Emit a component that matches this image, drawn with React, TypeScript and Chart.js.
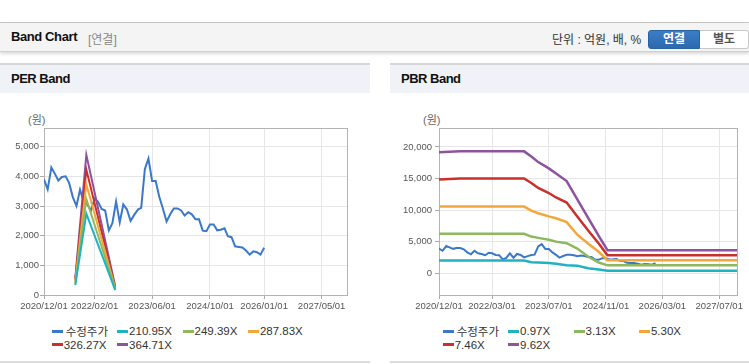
import React, { useEffect, useRef } from "react";
import { Chart, registerables } from "chart.js";
Chart.register(...registerables);

// ---------- data ----------
const axisStart = "2020/12/01";
const axisEnd = "2027/12/01";

const priceLabel = "수정주가";
// monthly adjusted price, starting 2020/12
const priceValues = [
  3900, 3560, 4300, 4100, 3860, 3980, 4000, 3780, 3300, 3000,
  3550, 3150, 3050, 2850, 3250, 3150, 2900, 2850, 2180, 2420,
  3150, 2450, 3050, 2880, 2500, 2700, 2880, 2940, 4250, 4600,
  3840, 3840, 3300, 2900, 2480, 2720, 2920, 2920, 2850, 2680,
  2790, 2720, 2550, 2550, 2170, 2150, 2380, 2380, 2180, 2200,
  2250, 1980, 1950, 1640, 1620, 1600, 1500, 1360, 1470, 1440,
  1360, 1590,
];

const perBandLabels = ["210.95X", "249.39X", "287.83X", "326.27X", "364.71X"];
const perBandDates = ["2021/08/22", "2021/11/23", "2022/07/25"];
const perBand1 = [330, 2740, 165];
const perBand2 = [390, 3235, 195];
const perBand3 = [450, 3735, 225];
const perBand4 = [510, 4230, 255];
const perBand5 = [570, 4730, 285];
const perXTicks = ["2020/12/01", "2022/02/01", "2023/06/01", "2024/10/01", "2026/01/01", "2027/05/01"];
const perYTicks = [0, 1000, 2000, 3000, 4000, 5000];
const perYMin = 0;
const perYMax = 5630;

const pbrBandLabels = ["0.97X", "3.13X", "5.30X", "7.46X", "9.62X"];
const pbrBandDates = [
  "2020/12/01", "2021/06/01", "2022/12/01", "2023/02/01", "2023/04/01", "2023/07/01",
  "2023/09/01", "2023/12/01", "2024/03/01", "2024/06/01", "2024/09/01", "2024/11/15", "2028/01/01",
];
const pbrBand1 = [2000, 2000, 2000, 1750, 1700, 1600, 1500, 1250, 1200, 780, 600, 380, 380];
const pbrBand2 = [6250, 6250, 6250, 5800, 5600, 5300, 5000, 4750, 3900, 2650, 1700, 1250, 1250];
const pbrBand3 = [10550, 10550, 10550, 9900, 9500, 9000, 8700, 8100, 6100, 4700, 3400, 2050, 2050];
const pbrBand4 = [14850, 15000, 15000, 14300, 13500, 12700, 12000, 11200, 9000, 6800, 4700, 2850, 2850];
const pbrBand5 = [19150, 19300, 19300, 18500, 17600, 16600, 15800, 14600, 11700, 8800, 5900, 3650, 3650];
const pbrXTicks = ["2020/12/01", "2022/03/01", "2023/07/01", "2024/11/01", "2026/03/01", "2027/07/01"];
const pbrYTicks = [0, 5000, 10000, 15000, 20000];
const pbrYMin = -3450;
const pbrYMax = 23000;

const priceColor = "#3a78c8";
const bandColors = ["#1fb3c1", "#8db85c", "#f3a73a", "#c9302c", "#8e529e"];

// ---------- helpers ----------
const DAY = 86400000;
const parseDate = (s: string) => {
  const [y, m, d] = s.split("/").map(Number);
  return Date.UTC(y, m - 1, d);
};
const START = parseDate(axisStart);
const toDay = (s: string) => (parseDate(s) - START) / DAY;
const monthDay = (i: number) => (Date.UTC(2020, 11 + i, 1) - START) / DAY;

const tickFont = { family: "'Liberation Sans', Arial, sans-serif", size: 9.5 };

const framePlugin = {
  id: "frame",
  beforeDatasetsDraw(chart: any) {
    const { ctx, chartArea: a } = chart;
    ctx.save();
    ctx.strokeStyle = "#b3b3b3";
    ctx.lineWidth = 1;
    ctx.strokeRect(
      Math.round(a.left) + 0.5,
      Math.round(a.top) + 0.5,
      Math.round(a.right - a.left),
      Math.round(a.bottom - a.top)
    );
    ctx.restore();
  },
};

function buildConfig(p: {
  bands: number[][];
  bandDates: string[];
  bandLabels: string[];
  xTicks: string[];
  yTicks: number[];
  yMin: number;
  yMax: number;
  yWidth: number;
  yPad: number;
  padRight: number;
  bandWidth: number;
}) {
  const datasets: any[] = [
    {
      label: priceLabel,
      data: priceValues.map((v, i) => ({ x: monthDay(i), y: v })),
      borderColor: priceColor,
      backgroundColor: priceColor,
      borderWidth: 2,
      order: 1,
    },
  ];
  p.bands.forEach((vals, k) => {
    datasets.push({
      label: p.bandLabels[k],
      data: vals.map((v, i) => ({ x: toDay(p.bandDates[i]), y: v })),
      borderColor: bandColors[k],
      backgroundColor: bandColors[k],
      borderWidth: p.bandWidth,
      order: 0,
    });
  });
  return {
    type: "line" as const,
    data: { datasets },
    options: {
      animation: false,
      responsive: false,
      maintainAspectRatio: false,
      layout: { padding: { top: 33, right: p.padRight, left: 0, bottom: 0 } },
      plugins: { legend: { display: false }, tooltip: { enabled: false } },
      elements: { point: { radius: 0 }, line: { tension: 0 } },
      scales: {
        x: {
          type: "linear",
          min: 0,
          max: toDay(axisEnd),
          afterBuildTicks: (s: any) => {
            s.ticks = p.xTicks.map((t) => ({ value: toDay(t) }));
          },
          afterFit: (s: any) => {
            s.height = 20;
          },
          ticks: {
            autoSkip: false,
            maxRotation: 0,
            padding: 2,
            color: "#555",
            font: tickFont,
            callback: (_v: any, i: number) => p.xTicks[i],
          },
          grid: { color: "#e6e6e6", tickColor: "#aaa", tickLength: 4 },
          border: { display: false },
        },
        y: {
          type: "linear",
          min: p.yMin,
          max: p.yMax,
          afterBuildTicks: (s: any) => {
            s.ticks = p.yTicks.map((v) => ({ value: v }));
          },
          afterFit: (s: any) => {
            s.width = p.yWidth;
          },
          ticks: {
            padding: p.yPad,
            color: "#555",
            font: tickFont,
            callback: (v: any) => Number(v).toLocaleString("en-US"),
          },
          grid: { color: "#e6e6e6", tickColor: "#aaa", tickLength: 4 },
          border: { display: false },
        },
      },
    },
    plugins: [framePlugin],
  };
}

function ChartCanvas({ config, width, height, left, top }: any) {
  const ref = useRef<HTMLCanvasElement | null>(null);
  useEffect(() => {
    if (!ref.current) return;
    const chart = new Chart(ref.current, config as any);
    return () => chart.destroy();
  }, []);
  return (
    <canvas
      ref={ref}
      width={width}
      height={height}
      style={{ position: "absolute", left, top, width, height }}
    />
  );
}

const textFont = "'Liberation Sans', 'Noto Sans CJK KR', Arial, sans-serif";

function Legend({ left, labels }: { left: number; labels: string[] }) {
  const items = [{ label: priceLabel, color: priceColor }].concat(
    labels.map((l, i) => ({ label: l, color: bandColors[i] }))
  );
  return (
    <>
      {items.map((it, i) => {
        const row = Math.floor(i / 4);
        const col = i % 4;
        return (
          <div
            key={i}
            style={{
              position: "absolute",
              left: left + col * 65.4,
              top: 324 + row * 13.5,
              height: 14,
              display: "flex",
              alignItems: "center",
              fontFamily: textFont,
              fontSize: 11.5,
              color: "#333",
              whiteSpace: "nowrap",
            }}
          >
            <span
              style={{ display: "inline-block", width: 11, height: 3, background: it.color, marginRight: i === 0 ? 3 : 1 }}
            />
            <span>{it.label}</span>
          </div>
        );
      })}
    </>
  );
}

function PanelHeader({ left, width, title }: any) {
  return (
    <div
      style={{
        position: "absolute",
        left,
        top: 63,
        width,
        height: 30,
        background: "#eff2f7",
        borderTop: "2px solid #d6d6d6",
        boxSizing: "border-box",
      }}
    >
      <span
        style={{
          position: "absolute",
          left: 11,
          top: 6,
          fontFamily: textFont,
          fontWeight: "bold",
          fontSize: 13,
          letterSpacing: -0.5,
          color: "#111",
        }}
      >
        {title}
      </span>
    </div>
  );
}

export default function App() {
  useEffect(() => {
    document.body.style.margin = "0";
  }, []);

  const perConfig = buildConfig({
    bands: [perBand1, perBand2, perBand3, perBand4, perBand5],
    bandDates: perBandDates,
    bandLabels: perBandLabels,
    xTicks: perXTicks,
    yTicks: perYTicks,
    yMin: perYMin,
    yMax: perYMax,
    yWidth: 44,
    yPad: 1,
    padRight: 23,
    bandWidth: 2,
  });
  const pbrConfig = buildConfig({
    bands: [pbrBand1, pbrBand2, pbrBand3, pbrBand4, pbrBand5],
    bandDates: pbrBandDates,
    bandLabels: pbrBandLabels,
    xTicks: pbrXTicks,
    yTicks: pbrYTicks,
    yMin: pbrYMin,
    yMax: pbrYMax,
    yWidth: 49,
    yPad: 3,
    padRight: 12,
    bandWidth: 2.5,
  });

  return (
    <div style={{ position: "relative", width: 749, height: 364, overflow: "hidden", background: "#fff" }}>
      {/* top header bar */}
      <div
        style={{
          position: "absolute",
          left: 0,
          top: 22,
          width: 749,
          height: 30,
          background: "#f4f4f4",
          borderTop: "1px solid #c4c4c4",
          borderBottom: "1px solid #d0d0d0",
          boxShadow: "0 2px 3px rgba(0,0,0,0.15)",
          boxSizing: "border-box",
        }}
      >
        <span
          style={{
            position: "absolute",
            left: 11,
            top: 6,
            fontFamily: textFont,
            fontWeight: "bold",
            fontSize: 13,
            letterSpacing: -0.4,
            color: "#111",
          }}
        >
          Band Chart
        </span>
        <span
          style={{ position: "absolute", left: 88, top: 7, fontFamily: textFont, fontSize: 12, color: "#888" }}
        >
          [연결]
        </span>
        <span
          style={{ position: "absolute", left: 552, top: 7, fontFamily: textFont, fontSize: 12, color: "#333" }}
        >
          단위 : 억원, 배, %
        </span>
        <div
          style={{
            position: "absolute",
            left: 648,
            top: 7,
            width: 52,
            height: 19,
            background: "linear-gradient(#3b7dc6, #2c6aae)",
            border: "1px solid #2a62a3",
            borderRadius: "3px 0 0 3px",
            boxSizing: "border-box",
            color: "#fff",
            fontFamily: textFont,
            fontWeight: "bold",
            fontSize: 12,
            textAlign: "center",
            lineHeight: "17px",
          }}
        >
          연결
        </div>
        <div
          style={{
            position: "absolute",
            left: 700,
            top: 7,
            width: 49,
            height: 19,
            background: "#fff",
            border: "1px solid #c8c8c8",
            borderLeft: "none",
            borderRadius: "0 3px 3px 0",
            boxSizing: "border-box",
            color: "#555",
            fontFamily: textFont,
            fontWeight: "bold",
            fontSize: 12,
            textAlign: "center",
            lineHeight: "17px",
          }}
        >
          별도
        </div>
      </div>

      <PanelHeader left={0} width={370} title="PER Band" />
      <PanelHeader left={390} width={359} title="PBR Band" />

      <span style={{ position: "absolute", left: 28, top: 111, fontFamily: textFont, fontSize: 11, color: "#666" }}>
        (원)
      </span>
      <span style={{ position: "absolute", left: 423, top: 111, fontFamily: textFont, fontSize: 11, color: "#666" }}>
        (원)
      </span>

      <ChartCanvas config={perConfig} width={370} height={220} left={0} top={95} />
      <ChartCanvas config={pbrConfig} width={359} height={220} left={390} top={95} />

      <Legend left={51.7} labels={perBandLabels} />
      <Legend left={442.7} labels={pbrBandLabels} />

      <div style={{ position: "absolute", left: 0, top: 361, width: 370, height: 2, background: "#dcdcdc" }} />
      <div style={{ position: "absolute", left: 390, top: 361, width: 359, height: 2, background: "#dcdcdc" }} />
    </div>
  );
}
